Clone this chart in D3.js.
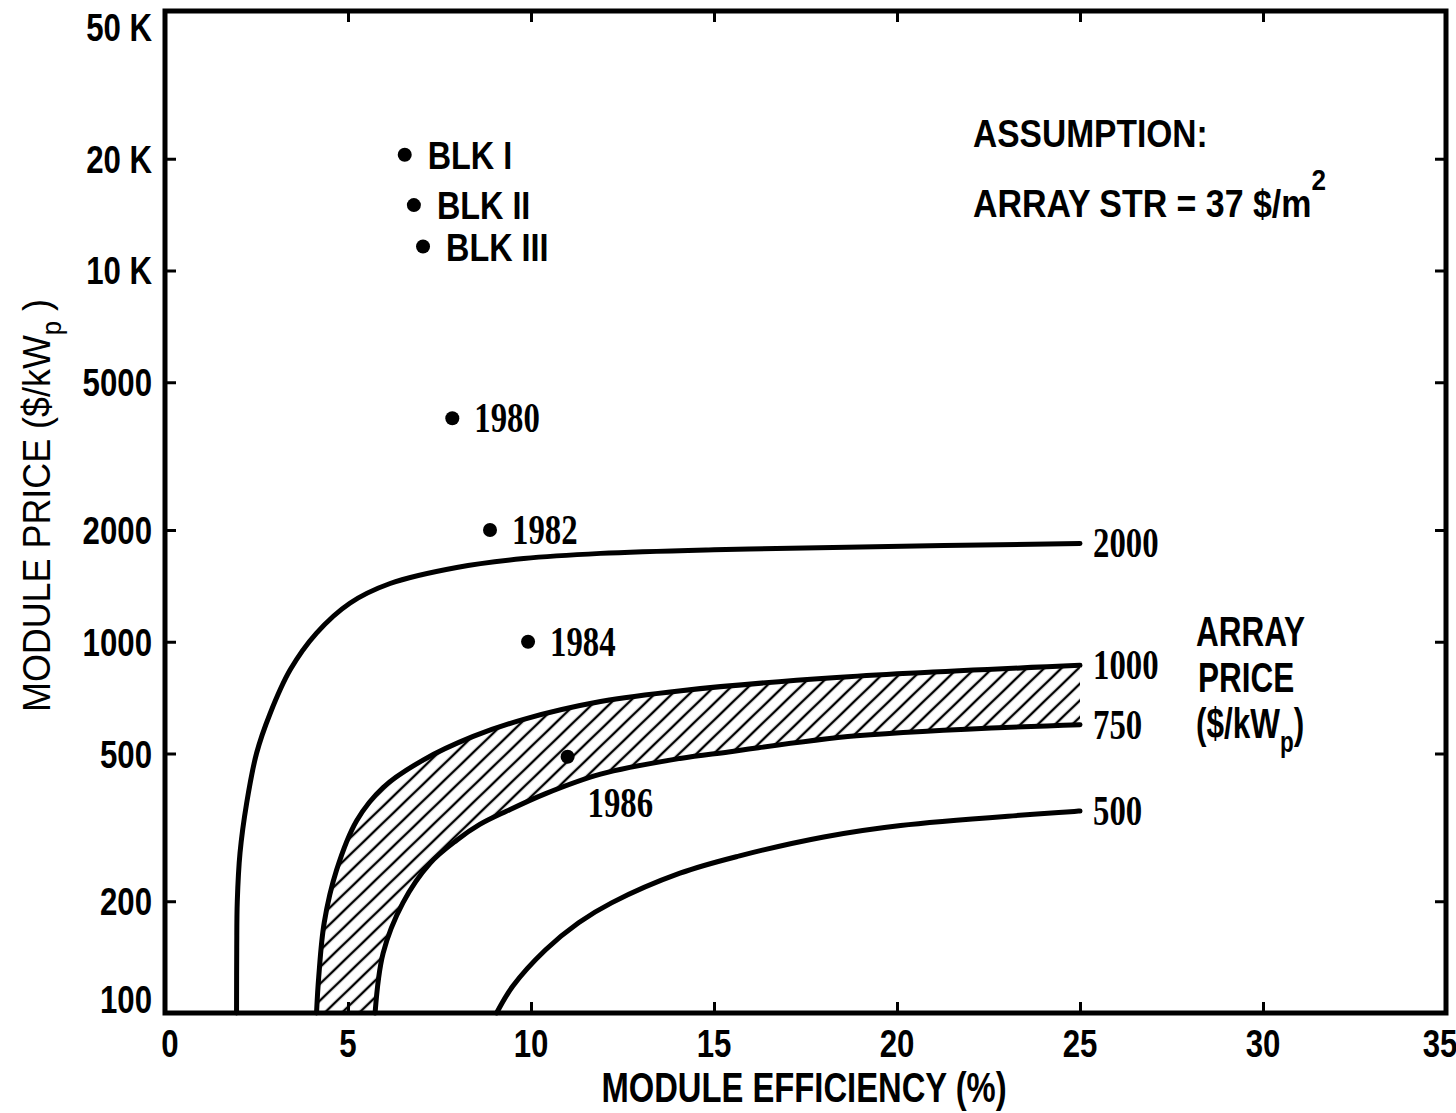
<!DOCTYPE html>
<html><head><meta charset="utf-8">
<script src="https://cdn.jsdelivr.net/npm/d3@7"></script>
<style>html,body{margin:0;padding:0;background:#fff;} svg{display:block;}</style>
</head><body>
<svg id="chart" width="1456" height="1113"></svg>
<script>
// ---------- data ----------
const xTicks = [0, 5, 10, 15, 20, 25, 30, 35];
const yTicks = [100, 200, 500, 1000, 2000, 5000, 10000, 20000, 50000];
const yTickLabels = ["100", "200", "500", "1000", "2000", "5000", "10 K", "20 K", "50 K"];

const curveLabels = ["2000", "1000", "750", "500"];
const curve2000 = [[1.955,100],[1.96,150],[1.975,200],[2.05,270],[2.23,367],[2.5,500],[2.87,640],[3.42,840],[4.14,1055],[5.05,1270],[6.15,1435],[7.97,1585],[9.8,1675],[11.9,1730],[15,1770],[18.25,1795],[25,1840]];
const curve1000 = [[4.14,100],[4.2,125],[4.35,175],[4.69,243],[5.24,330],[5.96,405],[7.05,480],[8.42,556],[9.8,618],[11.9,690],[14.1,738],[18.25,800],[25,864]];
const curve750  = [[5.74,100],[5.96,145],[6.5,198],[7.24,253],[7.97,292],[8.6,322],[9.34,350],[10.4,390],[11.9,440],[14.07,485],[15.4,505],[18.9,558],[25,598]];
const curve500  = [[9.06,100],[9.5,118],[10.4,148],[11.3,175],[12.2,198],[14.07,238],[15.7,265],[18,298],[20.1,320],[25,350]];

const pointNames = ["BLK I", "BLK II", "BLK III", "1980", "1982", "1984", "1986"];
const pointEff   = [6.55, 6.8, 7.05, 7.85, 8.88, 9.92, 11.0];
const pointPrice = [20500, 15000, 11600, 4000, 2000, 1000, 490];

// ---------- setup ----------
const svg = d3.select("#chart");
const x = d3.scaleLinear().domain([0, 35]).range([165, 1446]);
const y = d3.scaleLog().domain([100, 50000]).range([1013, 11]);

const SANS = "'Liberation Sans', Arial, Helvetica, sans-serif";
const SERIF = "'Liberation Serif', 'Times New Roman', serif";

function label(parent, px, py, parts, o) {
  const t = parent.append("text")
    .attr("transform", `translate(${px},${py})` + (o.rot ? ` rotate(${o.rot})` : "") + ` scale(${o.sx || 1},1)`)
    .attr("font-family", o.family || SANS)
    .attr("font-weight", o.weight || "bold")
    .attr("font-size", o.size || 39)
    .attr("text-anchor", o.anchor || "start")
    .attr("fill", "#000");
  if (typeof parts === "string") t.text(parts);
  else parts.forEach(p => {
    const s = t.append("tspan").text(p.t);
    if (p.dy) s.attr("dy", p.dy);
    if (p.size) s.attr("font-size", p.size);
  });
  return t;
}

// hatch pattern
const defs = svg.append("defs");
const pat = defs.append("pattern").attr("id", "hatch")
  .attr("patternUnits", "userSpaceOnUse").attr("width", 12).attr("height", 12)
  .attr("patternTransform", "rotate(-44)");
pat.append("rect").attr("width", 12).attr("height", 12).attr("fill", "#fff");
pat.append("line").attr("x1", -1).attr("x2", 13).attr("y1", 6).attr("y2", 6)
  .attr("stroke", "#000").attr("stroke-width", 2.4);

const line = d3.line().x(d => x(d[0])).y(d => y(d[1])).curve(d3.curveCatmullRom.alpha(0.5));

// band between 1000 and 750
const topPath = line(curve1000);
const botPath = line(curve750.slice().reverse()).replace(/^M/, "L");
svg.append("path").attr("d", topPath + botPath + "Z")
  .attr("fill", "url(#hatch)").attr("stroke", "none");

// curves
const curves = [curve2000, curve1000, curve750, curve500];
svg.append("g").selectAll("path").data(curves).join("path")
  .attr("d", d => line(d))
  .attr("fill", "none").attr("stroke", "#000").attr("stroke-width", 5)
  .attr("stroke-linecap", "round").attr("stroke-linejoin", "round");

// curve end labels
curves.forEach((c, i) => {
  const last = c[c.length - 1];
  label(svg, x(last[0]) + 13, y(last[1]) + 14, curveLabels[i], {family: SERIF, size: 42, sx: 0.78});
});

// frame
svg.append("rect").attr("x", x(0)).attr("y", y(50000))
  .attr("width", x(35) - x(0)).attr("height", y(100) - y(50000))
  .attr("fill", "none").attr("stroke", "#000").attr("stroke-width", 5);

// axes ticks (inward)
const inner = yTicks.slice(1, -1);
const xInner = xTicks.slice(1, -1);
function styleAxis(g) {
  g.select(".domain").remove();
  g.selectAll(".tick line").attr("stroke", "#000").attr("stroke-width", 3);
  g.selectAll(".tick text").remove();
}
svg.append("g").attr("transform", `translate(${x(0)},0)`)
  .call(d3.axisLeft(y).tickValues(inner).tickSize(-11).tickFormat(() => "")).call(styleAxis);
svg.append("g").attr("transform", `translate(${x(35)},0)`)
  .call(d3.axisRight(y).tickValues(inner).tickSize(-11).tickFormat(() => "")).call(styleAxis);
svg.append("g").attr("transform", `translate(0,${y(100)})`)
  .call(d3.axisBottom(x).tickValues(xInner).tickSize(-11).tickFormat(() => "")).call(styleAxis);
svg.append("g").attr("transform", `translate(0,${y(50000)})`)
  .call(d3.axisTop(x).tickValues(xInner).tickSize(-11).tickFormat(() => "")).call(styleAxis);

// y tick labels
yTicks.forEach((v, i) => {
  const cy = Math.min(999, Math.max(27, y(v)));
  label(svg, 152, cy + 14, yTickLabels[i], {size: 39, sx: 0.8, anchor: "end"});
});
// x tick labels
xTicks.forEach(v => {
  const cx = Math.min(1440, Math.max(170, x(v)));
  label(svg, cx, 1057, String(v), {size: 39, sx: 0.8, anchor: "middle"});
});

// axis titles
label(svg, 804, 1102, "MODULE EFFICIENCY (%)", {size: 42, sx: 0.78, anchor: "middle"});
label(svg, 50, 712, [{t: "MODULE PRICE ($/kW"}, {t: "p", dy: 11, size: 28}, {t: " )", dy: -11}],
  {rot: -90, size: 39, sx: 0.92, weight: "normal"});

// data points
const pts = svg.append("g");
pointNames.forEach((n, i) => {
  const px = x(pointEff[i]), py = y(pointPrice[i]);
  pts.append("circle").attr("cx", px).attr("cy", py).attr("r", 7).attr("fill", "#000");
  const isBlk = n.startsWith("BLK");
  if (n === "1986") {
    label(pts, px + 20, py + 60, n, {family: SERIF, size: 42, sx: 0.78});
  } else if (isBlk) {
    label(pts, px + 23, py + 14, n, {size: 39, sx: 0.83});
  } else {
    label(pts, px + 22, py + 14, n, {family: SERIF, size: 42, sx: 0.78});
  }
});

// annotations
label(svg, 973, 147, "ASSUMPTION:", {size: 39, sx: 0.86});
label(svg, 973, 217, [{t: "ARRAY STR = 37 $/m"}, {t: "2", dy: -27, size: 30}], {size: 39, sx: 0.87});

label(svg, 1196, 646, "ARRAY", {size: 42, sx: 0.75});
label(svg, 1198, 692, "PRICE", {size: 42, sx: 0.75});
label(svg, 1196, 738, [{t: "($/kW"}, {t: "p", dy: 14, size: 30}, {t: ")", dy: -14}], {size: 42, sx: 0.75});
</script>
</body></html>
